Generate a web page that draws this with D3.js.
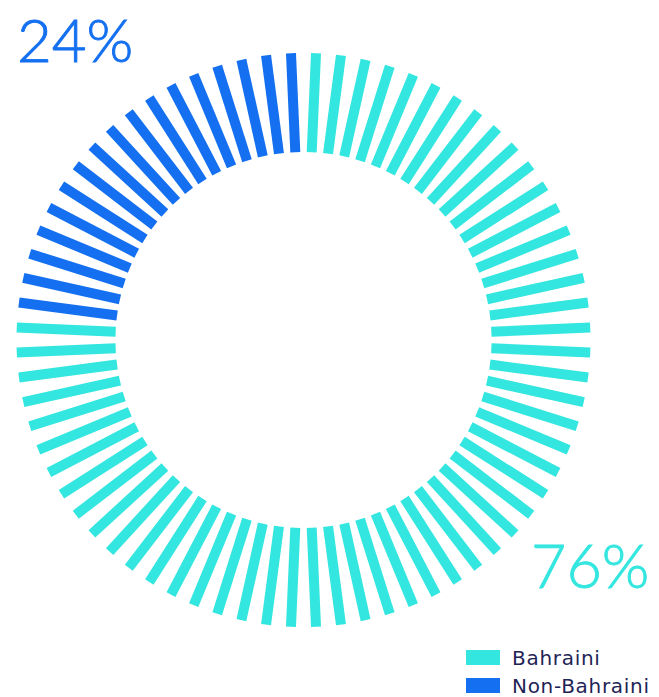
<!DOCTYPE html>
<html>
<head>
<meta charset="utf-8">
<script src="https://cdn.jsdelivr.net/npm/d3@7"></script>
<style>
  body { margin: 0; background: #fff; }
  svg { display: block; }
  .pct { font-family: Lato, sans-serif; font-weight: 300; }
  .legend text { font-family: "DejaVu Sans", sans-serif; fill: #1f2456; letter-spacing: 0.7px; }
</style>
</head>
<body>
<div id="chart"></div>
<script>
// data
var categories = ["Bahraini", "Non-Bahraini"];
var values = [76, 24];
var colors = ["#33e6df", "#1470f0"];
var barCount = 72;

var width = 659, height = 697;
var cx = 303.5, cy = 340;
var outerR = 287, innerR = 188, barW = 10;

var svg = d3.select("#chart")
  .append("svg")
  .attr("width", width)
  .attr("height", height);

// how many of the bars belong to each group
var nBlue = Math.round(values[1] / 100 * barCount);
var bars = d3.range(barCount).map(function(i) {
  return { i: i, cat: i < barCount - nBlue ? 0 : 1 };
});

// angle of each bar, clockwise from top
var angle = d3.scaleBand()
  .domain(d3.range(barCount))
  .range([0, 360])
  .padding(0);

var radius = d3.scaleLinear().domain([0, 1]).range([innerR, outerR]);

var g = svg.append("g")
  .attr("transform", "translate(" + cx + "," + cy + ")");

g.selectAll("rect.bar")
  .data(bars)
  .enter()
  .append("rect")
  .attr("class", "bar")
  .attr("transform", function(d) {
    return "rotate(" + (angle(d.i) + angle.bandwidth() / 2) + ")";
  })
  .attr("x", -barW / 2)
  .attr("y", -radius(1))
  .attr("width", barW)
  .attr("height", radius(1) - radius(0))
  .attr("fill", function(d) { return colors[d.cat]; });

// percentage labels
svg.append("text")
  .attr("class", "pct")
  .attr("x", 17)
  .attr("y", 62)
  .attr("font-size", 60)
  .attr("fill", colors[1])
  .attr("stroke", colors[1])
  .attr("stroke-width", 0.9)
  .text(values[1] + "%");

svg.append("text")
  .attr("class", "pct")
  .attr("x", 531)
  .attr("y", 588)
  .attr("font-size", 61)
  .attr("fill", colors[0])
  .attr("stroke", colors[0])
  .attr("stroke-width", 0.9)
  .text(values[0] + "%");

// legend
var legend = svg.append("g")
  .attr("class", "legend")
  .attr("transform", "translate(466,650)");

var item = legend.selectAll("g")
  .data(categories)
  .enter()
  .append("g")
  .attr("transform", function(d, i) { return "translate(0," + (i * 28) + ")"; });

item.append("rect")
  .attr("width", 34)
  .attr("height", 15)
  .attr("fill", function(d, i) { return colors[i]; });

item.append("text")
  .attr("x", 46)
  .attr("y", 15)
  .attr("font-size", 20)
  .text(function(d) { return d; });
</script>
</body>
</html>
